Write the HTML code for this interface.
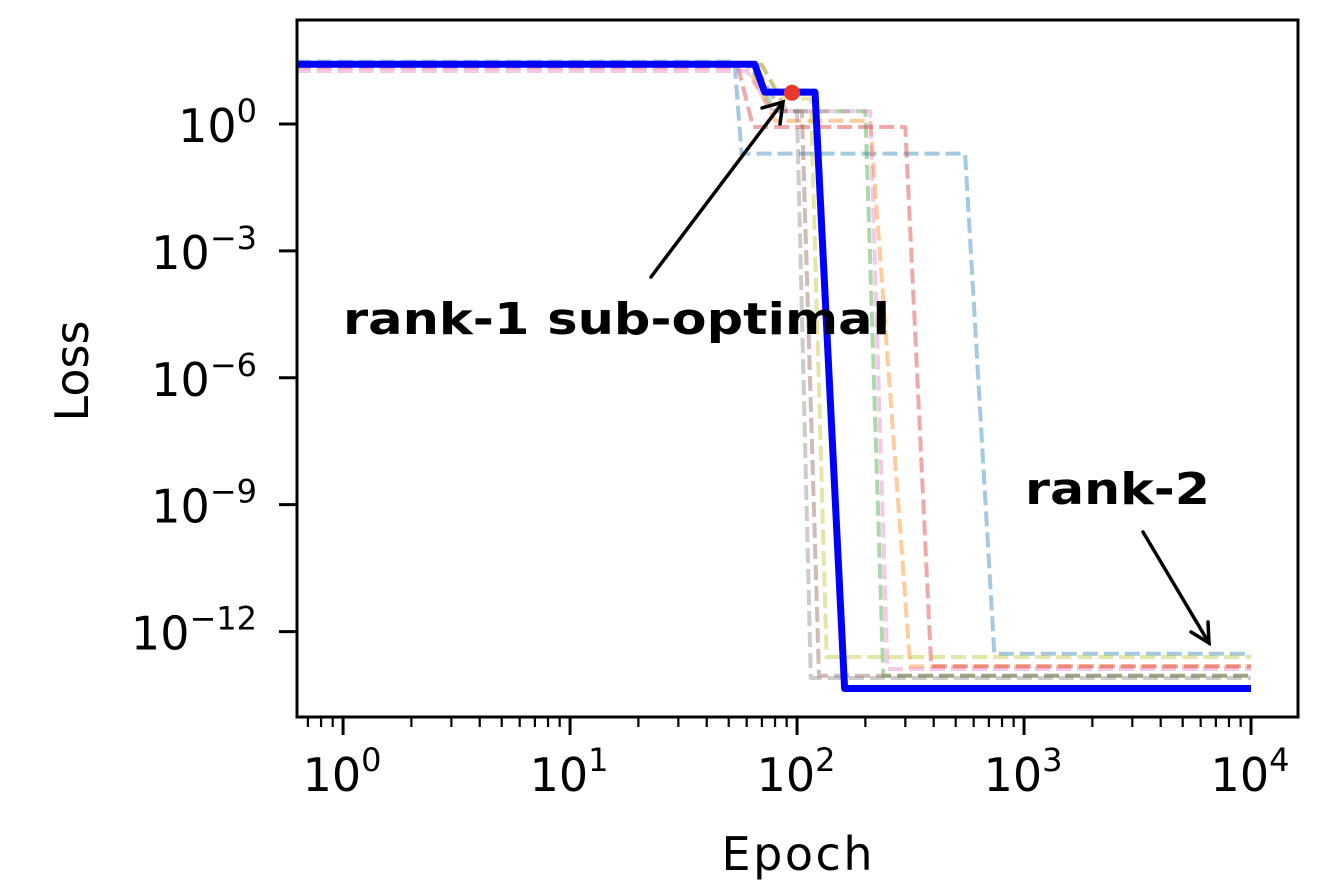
<!DOCTYPE html>
<html><head><meta charset="utf-8"><style>
body{margin:0;background:#fff;position:relative;}
svg{display:block;font-family:"DejaVu Sans","Liberation Sans",sans-serif;}
</style></head><body>
<svg id="chart" width="1332" height="894">
<defs><clipPath id="clip"><rect x="297" y="20" width="1001" height="697"/></clipPath></defs>
<g id="series" clip-path="url(#clip)"></g>
<g id="axes"></g>
</svg>
<script>
const xDomain = [-0.203, 4.207];
const yDomain = [-14.02, 2.46];
const xTicks = [0,1,2,3,4];
const yTicks = [0,-3,-6,-9,-12];
const seriesNames = ["C0","C1","C2","C3","C5","C6","C7","C8"];
const seriesColors = ["#1f77b4","#ff7f0e","#2ca02c","#d62728","#8c564b","#e377c2","#7f7f7f","#bcbd22"];
const s_C0 = [[0.5,30],[53,30],[57,0.2],[550,0.2],[740,3e-13],[10000,3e-13]];
const s_C1 = [[0.5,25],[60,25],[80,1.2],[210,1.2],[315,1.5e-13],[10000,1.5e-13]];
const s_C2 = [[0.5,25],[62,25],[80,2],[200,2],[240,9e-14],[10000,9e-14]];
const s_C3 = [[0.5,22],[55,22],[64,0.85],[300,0.85],[390,1.5e-13],[10000,1.5e-13]];
const s_C5 = [[0.5,25],[65,25],[85,2],[105,2],[125,9e-14],[10000,9e-14]];
const s_C6 = [[0.5,18],[60,18],[78,2],[210,2],[250,1.3e-13],[10000,1.3e-13]];
const s_C7 = [[0.5,25],[70,25],[90,2],[100,2],[115,8e-14],[10000,8e-14]];
const s_C8 = [[0.5,25],[70,25],[85,4],[115,4],[135,2.5e-13],[10000,2.5e-13]];
const seriesData = [s_C0,s_C1,s_C2,s_C3,s_C5,s_C6,s_C7,s_C8];
const bestSeries = [[0.5,26],[65,26],[72,5.7],[120,5.7],[162,4.5e-14],[10000,4.5e-14]];
const markerPoint = [95,5.5];

const X0=297,X1=1298,Y0=717,Y1=20;
const sx=e=>X0+(Math.log10(e)-xDomain[0])/(xDomain[1]-xDomain[0])*(X1-X0);
const sy=v=>Y0-(Math.log10(v)-yDomain[0])/(yDomain[1]-yDomain[0])*(Y0-Y1);
const NS="http://www.w3.org/2000/svg";
function mk(t,a,p){const e=document.createElementNS(NS,t);for(const k in a)e.setAttribute(k,a[k]);p.appendChild(e);return e;}
const gS=document.getElementById('series'), gA=document.getElementById('axes');
const pts=d=>d.map(p=>sx(p[0]).toFixed(1)+','+sy(p[1]).toFixed(1)).join(' ');
seriesData.forEach((d,i)=>{
  const l=mk('polyline',{points:pts(d),fill:'none',stroke:seriesColors[i],'stroke-width':4,'stroke-opacity':0.4,'stroke-dasharray':'15,6','stroke-linejoin':'round'},gS);
  
  
});
const b=mk('polyline',{points:pts(bestSeries),fill:'none',stroke:'#0000ff','stroke-width':7,'stroke-linejoin':'round'},gS);


const m=mk('circle',{cx:sx(markerPoint[0]),cy:sy(markerPoint[1]),r:8,fill:'#e8382a'},gS);


const fr=mk('rect',{x:X0,y:Y1,width:X1-X0,height:Y0-Y1,fill:'none',stroke:'#000','stroke-width':3},gA);


for(let d=-1;d<=4;d++){for(let k=1;k<10;k++){const e=k*Math.pow(10,d);const x=sx(e);if(x<X0||x>X1)continue;
  mk('line',{x1:x,x2:x,y1:Y0,y2:Y0+(k==1?18:10),stroke:'#000','stroke-width':k==1?3:2.2},gA);}}
xTicks.forEach(t=>{const x=sx(Math.pow(10,t));
  const tx=mk('text',{x:x-1,y:791,'font-size':46,'text-anchor':'middle'},gA);
  
  
  tx.innerHTML='10<tspan dy="-20" font-size="32">'+t+'</tspan>';});
yTicks.forEach(t=>{const y=sy(Math.pow(10,t));
  mk('line',{x1:X0-18,x2:X0,y1:y,y2:y,stroke:'#000','stroke-width':3},gA);
  const tx=mk('text',{x:257,y:y+18,'font-size':46,'text-anchor':'end'},gA);
  
  
  tx.innerHTML='10<tspan dy="-20" font-size="32">'+(t<0?'\u2212'+(-t):t)+'</tspan>';});
</script>
<svg style="position:absolute;left:0;top:0" width="1332" height="894">
<text x="797" y="870" font-size="46" text-anchor="middle" textLength="151" font-family="DejaVu Sans, sans-serif">Epoch</text>
<text transform="translate(88,371) rotate(-90)" font-size="46" text-anchor="middle" font-family="DejaVu Sans, sans-serif">Loss</text>
<text x="343" y="334" font-size="44" font-weight="bold" textLength="547" lengthAdjust="spacingAndGlyphs" font-family="DejaVu Sans, sans-serif">rank-1 sub-optimal</text>
<text x="1025" y="504" font-size="44" font-weight="bold" textLength="185" lengthAdjust="spacingAndGlyphs" font-family="DejaVu Sans, sans-serif">rank-2</text>
<g stroke="#000" stroke-width="3.5" fill="none" stroke-linecap="round">
<line x1="651" y1="277" x2="783" y2="102"/><polyline points="762,108 783,102 780,124"/></g>
<g stroke="#000" stroke-width="3.5" fill="none" stroke-linecap="round">
<line x1="1143" y1="532" x2="1209" y2="643"/><polyline points="1191,632 1209,643 1208,622"/></g>
</svg>
</body></html>
